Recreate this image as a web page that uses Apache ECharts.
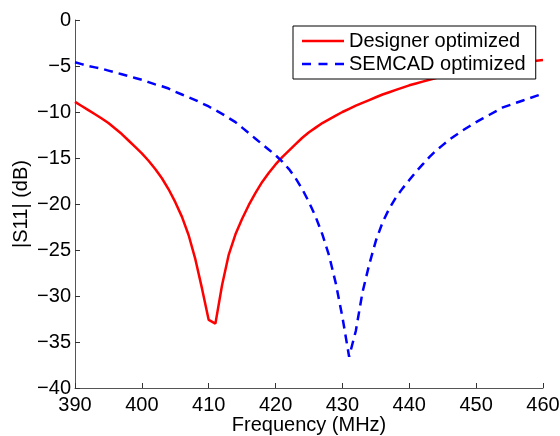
<!DOCTYPE html>
<html>
<head>
<meta charset="utf-8">
<script src="https://cdn.jsdelivr.net/npm/echarts@6/dist/echarts.min.js"></script>
<style>
html,body{margin:0;padding:0;background:#fff;}
#c{width:560px;height:436px;}
</style>
</head>
<body>
<div id="c"></div>
<script>
const seriesNames = ['Designer optimized', 'SEMCAD optimized'];

// Frequency samples (MHz), 1 MHz steps
const freq = [390,391,392,393,394,395,396,397,398,399,400,401,402,403,404,405,406,407,408,409,410,411,412,413,414,415,416,417,418,419,420,421,422,423,424,425,426,427,428,429,430,431,432,433,434,435,436,437,438,439,440,441,442,443,444,445,446,447,448,449,450,451,452,453,454,455,456,457,458,459,460];

const designerS11 = [-8.9,-9.35,-9.8,-10.25,-10.7,-11.2,-11.8,-12.4,-13.1,-13.8,-14.5,-15.3,-16.2,-17.2,-18.4,-19.8,-21.4,-23.4,-26.0,-29.2,-32.6,-33.0,-28.8,-25.5,-23.3,-21.6,-20.1,-18.8,-17.6,-16.6,-15.7,-14.9,-14.2,-13.5,-12.8,-12.2,-11.7,-11.2,-10.8,-10.4,-10.0,-9.65,-9.3,-9.0,-8.7,-8.4,-8.1,-7.85,-7.6,-7.35,-7.1,-6.9,-6.7,-6.5,-6.3,-6.1,-5.9,-5.75,-5.6,-5.45,-5.3,-5.2,-5.1,-5.0,-4.9,-4.8,-4.7,-4.6,-4.5,-4.42,-4.35];

const semcadS11 = [-4.6,-4.8,-5.0,-5.15,-5.3,-5.5,-5.7,-5.9,-6.1,-6.3,-6.5,-6.75,-7.0,-7.2,-7.45,-7.8,-8.1,-8.4,-8.7,-9.05,-9.4,-9.8,-10.2,-10.65,-11.1,-11.7,-12.3,-12.9,-13.5,-14.1,-14.7,-15.4,-16.2,-17.2,-18.4,-19.8,-21.4,-23.3,-25.6,-28.6,-32.3,-36.6,-33.8,-29.6,-26.6,-24.0,-22.0,-20.5,-19.3,-18.3,-17.4,-16.5,-15.7,-14.9,-14.2,-13.6,-13.0,-12.5,-12.0,-11.55,-11.1,-10.7,-10.3,-9.9,-9.5,-9.25,-9.0,-8.75,-8.5,-8.25,-8.0];

const xTicks = [390,400,410,420,430,440,450,460];
const yTicks = [0,-5,-10,-15,-20,-25,-30,-35,-40];

const FONT = '"Liberation Sans", Arial, Helvetica, sans-serif';
const zip = (a, b) => a.map((v, i) => [v, b[i]]);

const solidIcon = 'path://M0,0 H42 V2.5 H0 Z';
const dashIcon = 'path://M0,0 H9 V2.5 H0 Z M16.5,0 H25.5 V2.5 H16.5 Z M33,0 H42 V2.5 H33 Z';

const chart = echarts.init(document.getElementById('c'), null, {renderer: 'canvas'});
chart.setOption({
  animation: false,
  backgroundColor: '#fff',
  grid: {left: 75, right: 17, top: 20, bottom: 48, containLabel: false, outerBoundsMode: 'none'},
  legend: {
    orient: 'vertical',
    left: 293, top: 26,
    padding: [5, 10, 5, 9],
    itemWidth: 42, itemHeight: 20, itemGap: 3,
    backgroundColor: '#fff',
    borderColor: '#000', borderWidth: 1,
    textStyle: {fontFamily: FONT, fontSize: 20, color: '#000'},
    data: [
      {name: seriesNames[0], icon: solidIcon, itemStyle: {color: '#ff0000'}},
      {name: seriesNames[1], icon: dashIcon, itemStyle: {color: '#0000ff'}}
    ]
  },
  xAxis: {
    type: 'value', min: 390, max: 460, interval: 10,
    name: 'Frequency (MHz)', nameLocation: 'middle', nameGap: 27, nameMoveOverlap: false,
    nameTextStyle: {fontFamily: FONT, fontSize: 20, color: '#000', verticalAlign: 'top'},
    axisLine: {show: true, onZero: false, lineStyle: {color: '#555', width: 1}},
    axisTick: {show: true, inside: true, length: 5, lineStyle: {color: '#333'}},
    axisLabel: {fontFamily: FONT, fontSize: 20, color: '#000', margin: 7,
      formatter: v => xTicks.includes(v) ? String(v) : ''},
    splitLine: {show: false}
  },
  yAxis: {
    type: 'value', min: -40, max: 0, interval: 5,
    name: '|S11| (dB)', nameLocation: 'middle', nameGap: 44, nameRotate: 90, nameMoveOverlap: false,
    nameTextStyle: {fontFamily: FONT, fontSize: 20, color: '#000'},
    axisLine: {show: true, onZero: false, lineStyle: {color: '#555', width: 1}},
    axisTick: {show: true, inside: true, length: 5, lineStyle: {color: '#333'}},
    axisLabel: {fontFamily: FONT, fontSize: 20, color: '#000', margin: 4,
      formatter: v => yTicks.includes(v) ? String(v).replace('-', '\u2212') : ''},
    splitLine: {show: false}
  },
  series: [
    {
      name: seriesNames[0], type: 'line', data: zip(freq, designerS11),
      showSymbol: false, symbol: 'none', smooth: false,
      lineStyle: {color: '#ff0000', width: 2.5, type: 'solid'},
      itemStyle: {color: '#ff0000'}, z: 2
    },
    {
      name: seriesNames[1], type: 'line', data: zip(freq, semcadS11),
      showSymbol: false, symbol: 'none', smooth: false,
      lineStyle: {color: '#0000ff', width: 2.5, type: [9, 6]},
      itemStyle: {color: '#0000ff'}, z: 3
    }
  ]
});
</script>
</body>
</html>
